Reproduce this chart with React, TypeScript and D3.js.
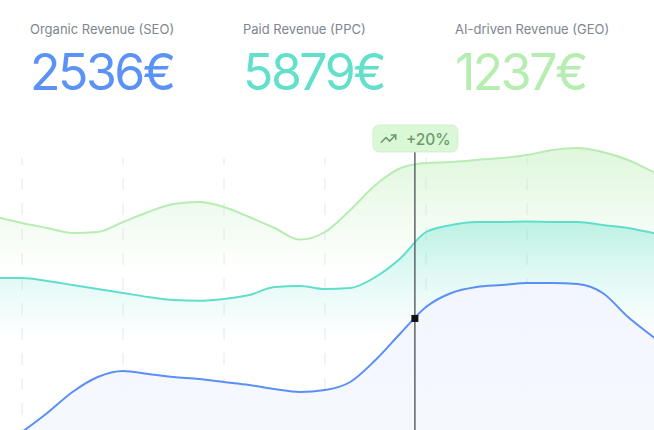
import { scaleLinear, area, line, curveMonotoneX } from 'd3';

// sample positions (days), grid days, series values
const days = [
  -0.25, 0, 0.25, 0.5, 0.75, 1, 1.25, 1.5, 1.75, 2, 2.25, 2.5, 2.75, 3, 3.25, 3.5, 3.75, 4, 4.25,
  4.5, 4.75, 5, 5.25, 5.5, 5.75, 6, 6.25, 6.5,
];
const gridDays = [0, 1, 2, 3, 4, 5];

const seoValues = [
  5, 9.5, 14.25, 19.5, 23.25, 24.75, 24, 23.25, 22.75, 22, 21.25, 20.25, 19.5, 20, 22, 27.5, 34.25,
  40.75, 44.25, 45.75, 46.25, 46.75, 46.75, 46.5, 44.25, 38.25, 33.25, 28.25,
];
const ppcValues = [
  48, 48, 47.25, 46.25, 45.25, 44.25, 43.25, 42.5, 42.3, 42.75, 43.75, 45.75, 46, 45.25, 45.5, 48.25,
  53, 59.5, 61.25, 62, 62, 62.1, 62, 62, 61.25, 60.5, 59.25, 58,
];
const geoValues = [
  63.25, 61.75, 60.5, 59.25, 59.5, 62, 64.5, 66.5, 67, 65.75, 63.25, 60.5, 57.6, 59.5, 65, 71.25,
  75.5, 76.75, 77, 77.5, 78, 78.75, 80, 80.5, 79.5, 77.5, 74.5, 71.25,
];

const cards = [
  { label: 'Organic Revenue (SEO)', value: '2536€', color: '#5b92f5' },
  { label: 'Paid Revenue (PPC)', value: '5879€', color: '#62e0cc' },
  { label: 'AI-driven Revenue (GEO)', value: '1237€', color: '#b6edb1' },
];

const hoverDay = 3.89;
const changeLabel = '+20%';

const width = 654;
const height = 430;

export default function App() {
  const x = scaleLinear().domain([0, 5]).range([22, 527]);
  const y = scaleLinear().domain([0, 80]).range([470, 150]);

  const mkLine = (vals: number[]) =>
    line<number>()
      .x((_, i) => x(days[i]))
      .y((d) => y(d))
      .curve(curveMonotoneX)(vals) || '';
  const mkArea = (vals: number[]) =>
    area<number>()
      .x((_, i) => x(days[i]))
      .y0(height + 20)
      .y1((d) => y(d))
      .curve(curveMonotoneX)(vals) || '';

  // marker on the SEO curve at the hover position
  const hi = days.findIndex((d) => d > hoverDay);
  const t = (hoverDay - days[hi - 1]) / (days[hi] - days[hi - 1]);
  const hoverVal = seoValues[hi - 1] + t * (seoValues[hi] - seoValues[hi - 1]);
  const hx = x(hoverDay);
  const hy = y(hoverVal);

  const columns = [30, 243, 455];

  return (
    <>
      <style>{`body{margin:0}`}</style>
      <svg width={width} height={height} style={{ display: 'block', fontFamily: 'Inter, sans-serif' }}>
        <defs>
          <linearGradient id="geoFill" gradientUnits="userSpaceOnUse" x1="0" x2="0" y1={150} y2={270}>
            <stop offset="0" stopColor="#b5ecae" stopOpacity={0.42} />
            <stop offset="1" stopColor="#b5ecae" stopOpacity={0} />
          </linearGradient>
          <linearGradient id="ppcFill" gradientUnits="userSpaceOnUse" x1="0" x2="0" y1={222} y2={335}>
            <stop offset="0" stopColor="#5fdfcb" stopOpacity={0.36} />
            <stop offset="1" stopColor="#5fdfcb" stopOpacity={0} />
          </linearGradient>
          <linearGradient id="seoFill" gradientUnits="userSpaceOnUse" x1="0" x2="0" y1={280} y2={430}>
            <stop offset="0" stopColor="#f2f5fd" stopOpacity={0.95} />
            <stop offset="1" stopColor="#f5f8fe" stopOpacity={0.95} />
          </linearGradient>
        </defs>

        <rect width={width} height={height} fill="#fff" />

        {cards.map((c, i) => (
          <g key={c.label} transform={`translate(${columns[i]},0)`}>
            <text y={34} fontSize={13} fill="#7e868e">
              {c.label}
            </text>
            <text y={90} fontSize={50} fill={c.color} letterSpacing={-2.5}>
              {c.value}
            </text>
          </g>
        ))}

        {gridDays.map((d) => (
          <line
            key={d}
            x1={x(d)}
            x2={x(d)}
            y1={158}
            y2={height}
            stroke="#e6e8ec"
            strokeWidth={1}
            strokeDasharray="12 13"
            strokeDashoffset={5}
          />
        ))}

        <path d={mkArea(geoValues)} fill="url(#geoFill)" />
        <path d={mkLine(geoValues)} fill="none" stroke="#b9ecb3" strokeWidth={2} />

        <path d={mkArea(ppcValues)} fill="url(#ppcFill)" />
        <path d={mkLine(ppcValues)} fill="none" stroke="#5fdfcb" strokeWidth={2} />

        <path d={mkArea(seoValues)} fill="url(#seoFill)" />
        <path d={mkLine(seoValues)} fill="none" stroke="#5b8ff5" strokeWidth={2} />

        <line x1={hx} x2={hx} y1={152} y2={height} stroke="#5f636a" strokeWidth={1.5} />
        <rect x={hx - 3.5} y={hy - 3.5} width={7} height={7} fill="#111" />

        <g transform={`translate(${hx - 42},125)`}>
          <rect width={85} height={27} rx={6} fill="#daf8d6" stroke="#cdeec8" strokeWidth={0.8} />
          <g transform="translate(7,5) scale(0.72)" fill="none" stroke="#6c9a6c" strokeWidth={2.2} strokeLinecap="round" strokeLinejoin="round">
            <path d="M22 7l-8.5 8.5-5-5L2 17" />
            <path d="M16 7h6v6" />
          </g>
          <text x={33} y={20} fontSize={15.5} fontWeight={500} fill="#6c9a6c">
            {changeLabel}
          </text>
        </g>
      </svg>
    </>
  );
}
